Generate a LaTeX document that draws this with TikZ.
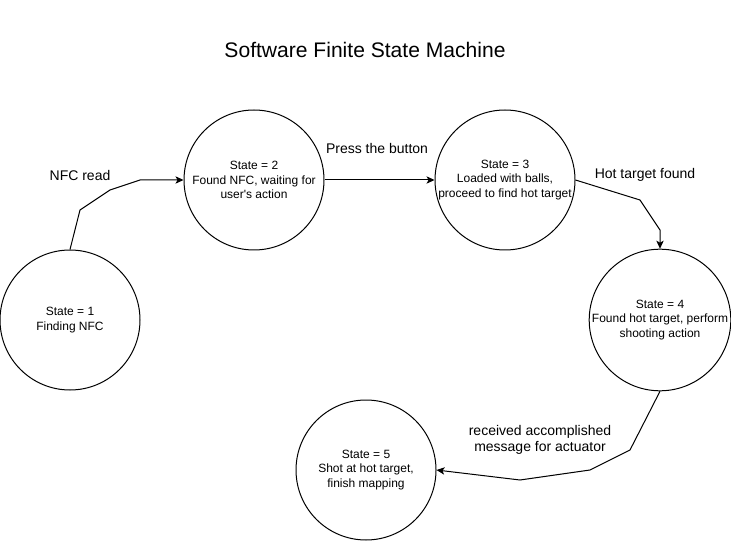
\documentclass[tikz,border=0pt]{standalone}
\usepackage{fontspec}
\setmainfont{Liberation Sans}
\usetikzlibrary{arrows.meta}

\tikzset{
  state/.style={draw,circle,line width=0.75pt,minimum size=105pt,inner sep=0pt,align=center,font=\fontsize{9}{10.9}\selectfont},
  trans/.style={line width=0.75pt,-{Stealth[length=6pt,width=5.5pt,inset=1.5pt]}},
  lbl/.style={align=center,font=\fontsize{10.5}{12}\selectfont}
}

\begin{document}
\begin{tikzpicture}[x=0.75pt,y=-0.75pt]
\useasboundingbox (0,0) rectangle (731,541);
\node[font=\fontsize{15.8}{19}\selectfont] (title) at (365,50) {Software Finite State Machine};
% states
\node[state] (s1) at (70,320) {State = 1\\Finding NFC};
\node[state] (s2) at (254,180) {State = 2\\Found NFC, waiting for\\user\textquotesingle s action};
\node[state] (s3) at (505,180) {State = 3\\Loaded with balls,\\proceed to find hot target};
\node[state] (s4) at (660,320) {State = 4\\Found hot target, perform\\shooting action};
\node[state] (s5) at (366,470) {State = 5\\Shot at hot target,\\finish mapping};
% transitions
\draw[trans] (s1.north) -- (80,210) -- (110,190) -- (140,180) -- (s2.west);
\draw[trans] (s2.east) -- (s3.west);
\draw[trans] (s3.east) -- (640,200) -- (660,230) -- (s4.north);
\draw[trans] (s4.south) -- (630,450) -- (590,470) -- (520,480) -- (s5.east);
% labels
\node[lbl] (l12) at (80,175) {NFC read};
\node[lbl] (l23) at (377,148) {Press the button};
\node[lbl] (l34) at (645,175) {Hot target found};
\node[lbl] (l45) at (540,440) {received accomplished\\message for actuator};
\end{tikzpicture}
\end{document}
